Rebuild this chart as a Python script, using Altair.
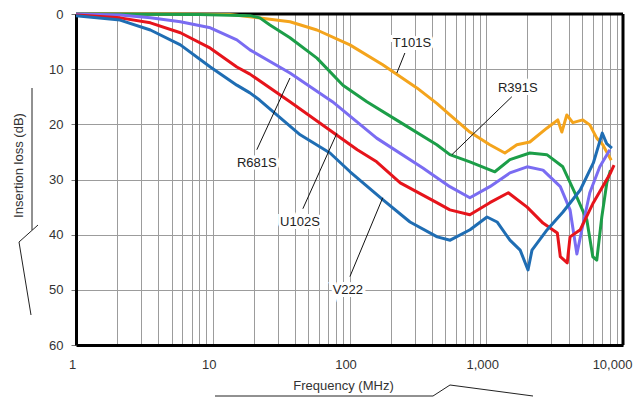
import altair as alt
import pandas as pd

# ---- series data (frequency in MHz, insertion loss in dB) ----
series_names = ["T101S", "R391S", "R681S", "U102S", "V222"]
series_colors = ["#f4a41c", "#1c9e48", "#7a6cf2", "#e6141b", "#1f6db3"]

t101s_f = [1, 5, 13.4, 18.7, 36.7, 57.8, 100.7, 175, 311, 435, 542, 759, 1062, 1368, 1674, 2083, 2773, 3337, 3571, 3882, 4296, 5082, 5718, 6430, 7116, 8200]
t101s_db = [0, 0, 0.1, 0.5, 1.4, 2.9, 5.6, 9.2, 13.4, 16.2, 18.3, 21.4, 23.7, 25.2, 23.7, 23.2, 20.7, 19.2, 21.4, 18.3, 19.7, 19.2, 20.1, 22.5, 23.7, 26.5]

r391s_f = [1, 8, 18.7, 22.1, 26.2, 36.7, 57.8, 89.5, 134, 234, 435, 542, 759, 1156, 1489, 2083, 2773, 3630, 4596, 5436, 6014, 6430, 6998, 7616, 8100]
r391s_db = [0, 0.1, 0.3, 0.7, 2.0, 4.3, 8.0, 12.9, 15.9, 19.6, 23.7, 25.5, 26.8, 28.6, 26.4, 25.2, 25.5, 27.7, 33.2, 37.3, 44.0, 44.6, 36.8, 30.6, 28.3]

r681s_f = [1, 2.1, 3.5, 5.8, 9.6, 15, 18.7, 36.7, 75, 158, 344, 542, 759, 1062, 1489, 1990, 2600, 3480, 4100, 4600, 5000, 5718, 6765, 8016]
r681s_db = [0, 0.2, 0.7, 1.4, 2.5, 4.7, 6.5, 10.7, 15.9, 22.5, 27.9, 31.3, 33.3, 31.3, 28.8, 27.7, 28.3, 31.3, 35.5, 43.5, 39.1, 32.4, 27.7, 24.6]

u102s_f = [1, 2.1, 3.5, 5.8, 9.6, 15, 18.7, 36.7, 75, 114, 158, 235, 435, 542, 759, 1062, 1450, 1990, 2600, 3310, 3480, 3910, 4100, 4870, 6070, 8100, 8600]
u102s_db = [0.2, 0.7, 1.6, 3.4, 6.2, 9.6, 10.9, 15.9, 21.4, 24.6, 26.8, 30.6, 34.2, 35.5, 36.4, 34.2, 32.4, 35.0, 37.9, 39.7, 44.0, 45.1, 40.4, 39.1, 34.2, 28.8, 27.4]

v222_f = [1, 2.1, 3.5, 5.8, 9.6, 15, 18.7, 22, 43.6, 72, 101, 176, 277, 438, 545, 761, 1013, 1200, 1490, 1770, 2020, 2160, 2790, 3640, 4870, 6070, 7050, 7600, 8300]
v222_db = [0.3, 1.1, 2.9, 5.6, 9.6, 12.9, 14.3, 15.6, 21.9, 25.2, 28.6, 33.7, 37.7, 40.4, 41.0, 39.1, 36.8, 37.7, 41.0, 42.8, 46.4, 42.8, 39.1, 35.9, 31.9, 27.0, 21.6, 23.5, 24.3]

series_f = [t101s_f, r391s_f, r681s_f, u102s_f, v222_f]
series_db = [t101s_db, r391s_db, r681s_db, u102s_db, v222_db]

# ---- callout labels (data coordinates) ----
ann_label = ["T101S", "R391S", "R681S", "U102S", "V222"]
ann_text_f = [286, 1702, 21.0, 43.4, 97.3]
ann_text_db = [5.25, 13.4, 27.0, 37.7, 50.0]
ann_line_f1 = [254, 1538, 21.0, 45.6, 100.7]
ann_line_db1 = [7.07, 15.0, 24.6, 35.3, 47.6]
ann_line_f2 = [222, 561, 36.7, 80.9, 175]
ann_line_db2 = [10.7, 25.5, 11.6, 21.6, 33.3]

x_ticks = [m * 10 ** k for k in range(4) for m in range(1, 10)] + [10000]
y_ticks = [0, 10, 20, 30, 40, 50, 60]

FONT = "Liberation Sans"
GRID = "#9c9c9c"
W, H = 547, 331

xscale = alt.Scale(type="log", domain=[1, 10000], nice=False)
yscale = alt.Scale(domain=[0, 60], reverse=True, nice=False)

xaxis = alt.Axis(
    values=x_ticks,
    labelExpr="indexof([1,10,100,1000,10000], datum.value) >= 0 ? format(datum.value, ',') : ''",
    grid=True, gridColor=GRID, gridWidth=1, gridOpacity=1,
    ticks=False, domain=True, domainColor="black", domainWidth=3,
    labelOverlap=False, labelFlush=False,
    labelFont=FONT, labelFontSize=13, labelColor="#333333",
    labelPadding=13, labelBaseline="top",
    labelOffset=alt.ExprRef(expr="datum.value == 10000 ? -11 : -4"),
    title="Frequency (MHz)", titleFont=FONT, titleFontSize=13,
    titleFontWeight="normal", titleColor="#333333",
    titleX=267, titleY=40, titleAlign="center", titleBaseline="middle",
)
yaxis = alt.Axis(
    values=y_ticks,
    grid=True, gridColor=GRID, gridWidth=1, gridOpacity=1,
    ticks=True, tickSize=5, tickColor="#777777",
    domain=True, domainColor="black", domainWidth=3,
    labelFont=FONT, labelFontSize=13, labelColor="#333333", labelPadding=8,
    labelFlush=False,
    title="Insertion loss (dB)", titleFont=FONT, titleFontSize=13,
    titleFontWeight="normal", titleColor="#333333",
    titleAngle=270, titleX=-58, titleY=151, titleAlign="center", titleBaseline="middle",
)


def X(field):
    return alt.X(f"{field}:Q", scale=xscale, axis=xaxis)


def Y(field):
    return alt.Y(f"{field}:Q", scale=yscale, axis=yaxis)


one = alt.Data(values=[{"k": 1}])

# black frame lines at the domain edges (top and right)
frame_top = alt.Chart(one).mark_rule(color="black", strokeWidth=3).encode(
    y=alt.Y(datum=0, scale=yscale, axis=yaxis)
)
frame_right = alt.Chart(one).mark_rule(color="black", strokeWidth=3).encode(
    x=alt.X(datum=10000, scale=xscale, axis=xaxis)
)

layers = []
for name, color, fs, dbs in zip(series_names, series_colors, series_f, series_db):
    df = pd.DataFrame({"f": fs, "db": dbs, "series": name})
    layers.append(
        alt.Chart(df).mark_line(color=color, strokeWidth=3, strokeJoin="round")
        .encode(x=X("f"), y=Y("db"), order=alt.Order("f:Q"))
    )

ann = pd.DataFrame({
    "label": ann_label,
    "tf": ann_text_f, "tdb": ann_text_db,
    "f1": ann_line_f1, "db1": ann_line_db1,
    "f2": ann_line_f2, "db2": ann_line_db2,
})

leaders = alt.Chart(ann).mark_rule(color="#111111", strokeWidth=1).encode(
    x=X("f1"), y=Y("db1"), x2="f2:Q", y2="db2:Q"
)
halo = alt.Chart(ann).mark_text(
    font=FONT, fontSize=13, color="white", stroke="white", strokeWidth=6,
    align="center", baseline="middle"
).encode(x=X("tf"), y=Y("tdb"), text="label:N")
labels = alt.Chart(ann).mark_text(
    font=FONT, fontSize=13, color="#222222", align="center", baseline="middle"
).encode(x=X("tf"), y=Y("tdb"), text="label:N")

# decorative bracket strokes around the axis titles (pixel positions)
deco_segments = [
    (-44, 74, -44, 216),
    (-38, 211, -57, 228),
    (-57, 228, -45, 301),
    (139, 382, 357, 382),
    (357, 382, 374, 371),
    (374, 371, 457, 382),
]
deco = [
    alt.Chart(one).mark_rule(color="#222222", strokeWidth=1).encode(
        x=alt.value(a), y=alt.value(b), x2=alt.value(c), y2=alt.value(d)
    )
    for (a, b, c, d) in deco_segments
]

chart = alt.layer(frame_top, frame_right, *layers, leaders, halo, labels, *deco).properties(
    width=W, height=H,
    autosize=alt.AutoSizeParams(type="none"),
    padding={"left": 68, "top": 6, "right": 10, "bottom": 52},
    background="white",
).configure_view(stroke=None)

chart.save("out.html", embed_options={"renderer": "svg", "actions": False})
